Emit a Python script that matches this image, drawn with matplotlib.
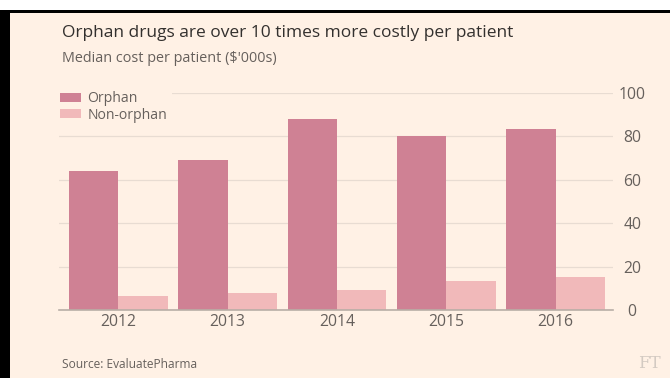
import matplotlib
matplotlib.use("Agg")
import matplotlib.pyplot as plt
from matplotlib.patches import Rectangle
import numpy as np

plt.rcParams['font.family'] = ['Open Sans', 'DejaVu Sans']

years = ["2012", "2013", "2014", "2015", "2016"]
orphan = [64, 69, 88, 80, 83.5]
non_orphan = [6.5, 8, 9, 13.5, 15]
yticks = [0, 20, 40, 60, 80, 100]

CREAM = "#FFF1E5"
C_ORPH = "#CF8194"
C_NON = "#F1B9BA"
GREY = "#66605C"

W, H = 670, 378
fig = plt.figure(figsize=(W / 100, H / 100), dpi=100, facecolor=CREAM)

# frame round the screenshot: white strip, black top rule, black left edge
fig.patches.append(Rectangle((0, 1 - 10 / H), 1, 10 / H, transform=fig.transFigure,
                             facecolor="white", edgecolor="none", zorder=0))
fig.patches.append(Rectangle((0, 1 - 12.5 / H), 1, 2.5 / H, transform=fig.transFigure,
                             facecolor="black", edgecolor="none", zorder=0))
fig.patches.append(Rectangle((0, 0), 10 / W, 1 - 10 / H, transform=fig.transFigure,
                             facecolor="black", edgecolor="none", zorder=0))

ax = fig.add_axes([59 / W, 1 - 310 / H, (612.7 - 59) / W, (310 - 93) / H])
ax.set_facecolor("none")

x = np.arange(len(years))
w = 0.451
ax.bar(x - w / 2, orphan, w, color=C_ORPH, label="Orphan", zorder=2)
ax.bar(x + w / 2, non_orphan, w, color=C_NON, label="Non-orphan", zorder=2)

ax.set_xlim(-0.543, 4.523)
ax.set_ylim(0, 100)
ax.set_xticks(x)
ax.set_xticklabels(years)
ax.set_yticks(yticks)
ax.yaxis.tick_right()
for lab in ax.get_yticklabels():
    lab.set_horizontalalignment("center")
ax.tick_params(axis="y", length=0, pad=14, labelsize=11.3, labelcolor=GREY)
ax.tick_params(axis="x", length=0, pad=3, labelsize=11.3, labelcolor=GREY)

ax.yaxis.grid(True, color="#E8DCD2", lw=0.9)
ax.set_axisbelow(True)
for s in ["top", "left", "right"]:
    ax.spines[s].set_visible(False)
ax.spines["bottom"].set_color("#B8AEA6")
ax.spines["bottom"].set_linewidth(1.2)
ax.spines["bottom"].set_zorder(3)

leg = ax.legend(loc="upper left", bbox_to_anchor=(56 / W, 1 - 87 / H),
                bbox_transform=fig.transFigure, fontsize=10.1, frameon=True,
                facecolor=CREAM, edgecolor="none", framealpha=1, fancybox=False,
                borderpad=0.3, borderaxespad=0, handlelength=1.5, handleheight=0.6,
                handletextpad=0.45, labelspacing=0.12)
for t in leg.get_texts():
    t.set_color(GREY)

fig.text(62 / W, 1 - 33 / H, "Orphan drugs are over 10 times more costly per patient",
         fontsize=12.5, color="#33302E", va="center", ha="left")
fig.text(62 / W, 1 - 58 / H, "Median cost per patient ($'000s)",
         fontsize=10.4, color=GREY, va="center", ha="left")
fig.text(62 / W, 1 - 365 / H, "Source: EvaluatePharma",
         fontsize=8.6, color=GREY, va="center", ha="left")
fig.text(649 / W, 1 - 363 / H, "FT", family="DejaVu Serif", fontsize=12,
         color="#D3CAC2", va="center", ha="center")

fig.savefig("out.png", dpi=100, facecolor=fig.get_facecolor())
